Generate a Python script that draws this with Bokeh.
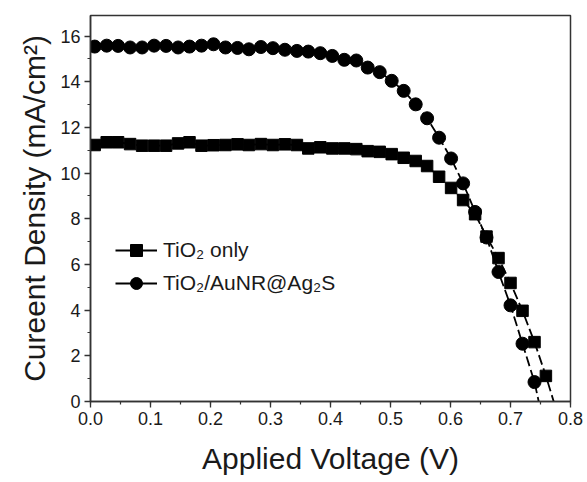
from bokeh.plotting import figure
from bokeh.models import (Range1d, Legend, LegendItem, SingleIntervalTicker,
                          NumeralTickFormatter, ColumnDataSource)
from bokeh.embed import file_html
from bokeh.resources import INLINE

# Applied voltage (V) of each measured point
voltage = [0.007, 0.027, 0.046, 0.066, 0.086, 0.106, 0.126, 0.146, 0.165, 0.185,
           0.205, 0.225, 0.245, 0.264, 0.284, 0.304, 0.324, 0.344, 0.363, 0.383,
           0.403, 0.423, 0.443, 0.462, 0.482, 0.502, 0.522, 0.542, 0.561, 0.581,
           0.601, 0.621, 0.641, 0.660, 0.680, 0.700, 0.720, 0.740, 0.759]

# Current density (mA/cm^2), TiO2 only (squares)
j_tio2 = [11.23, 11.35, 11.35, 11.27, 11.20, 11.20, 11.20, 11.30, 11.35, 11.20,
          11.22, 11.23, 11.26, 11.23, 11.27, 11.23, 11.26, 11.23, 11.08, 11.13,
          11.08, 11.08, 11.05, 10.96, 10.93, 10.83, 10.67, 10.53, 10.31, 9.84,
          9.35, 8.82, 8.20, 7.22, 6.28, 5.19, 3.97, 2.60, 1.12]

# Current density (mA/cm^2), TiO2/AuNR@Ag2S (circles)
j_aunr = [15.54, 15.58, 15.57, 15.50, 15.50, 15.58, 15.57, 15.50, 15.54, 15.58,
          15.64, 15.50, 15.48, 15.42, 15.52, 15.47, 15.40, 15.35, 15.32, 15.25,
          15.13, 14.96, 14.93, 14.62, 14.42, 14.04, 13.60, 13.01, 12.40, 11.55,
          10.64, 9.55, 8.30, 7.18, 5.67, 4.21, 2.53, 0.85]

# Open-circuit voltages where the dashed curves meet J = 0
voc_tio2 = 0.772
voc_aunr = 0.747

labels = ["TiO\u2082 only", "TiO\u2082/AuNR@Ag\u2082S"]

FONT = "Liberation Sans"
INK = "#1a1a1a"

p = figure(width=587, height=482, output_backend="svg", toolbar_location=None,
           x_range=Range1d(0, 0.8), y_range=Range1d(0, 16.9),
           min_border_left=90, min_border_right=17, min_border_top=15,
           min_border_bottom=81, background_fill_color="white",
           border_fill_color="white")

p.xgrid.visible = False
p.ygrid.visible = False
p.outline_line_color = "#333333"
p.outline_line_width = 1.5

p.xaxis.ticker = SingleIntervalTicker(interval=0.1, num_minor_ticks=2)
p.yaxis.ticker = SingleIntervalTicker(interval=2, num_minor_ticks=2)
p.xaxis.formatter = NumeralTickFormatter(format="0.0")

for ax in (p.xaxis[0], p.yaxis[0]):
    ax.axis_line_color = "#333333"
    ax.axis_line_width = 1.5
    ax.major_tick_line_color = "#333333"
    ax.minor_tick_line_color = "#333333"
    ax.major_tick_line_width = 1.3
    ax.minor_tick_line_width = 1.2
    ax.major_tick_out = 6
    ax.major_tick_in = 0
    ax.minor_tick_out = 3
    ax.minor_tick_in = 0
    ax.major_label_text_font = FONT
    ax.major_label_text_font_size = "18px"
    ax.major_label_text_color = INK
    ax.axis_label_text_font = FONT
    ax.axis_label_text_font_style = "normal"
    ax.axis_label_text_font_size = "30px"
    ax.axis_label_text_color = INK

p.xaxis.axis_label = "Applied Voltage (V)"
p.yaxis.axis_label = "Cureent Density (mA/cm\u00b2)"
p.xaxis.major_label_standoff = 4
p.xaxis.axis_label_standoff = 14
p.yaxis.major_label_standoff = 4
p.yaxis.axis_label_standoff = 6

# dashed connecting curves, ending at J = 0
src_a = ColumnDataSource(dict(x=voltage + [voc_tio2], y=j_tio2 + [0.0]))
src_b = ColumnDataSource(dict(x=voltage[:len(j_aunr)] + [voc_aunr], y=j_aunr + [0.0]))
p.line("x", "y", source=src_a, line_color="black", line_width=1.8, line_dash="10 4")
p.line("x", "y", source=src_b, line_color="black", line_width=1.8, line_dash="10 4")

sq = p.scatter(voltage, j_tio2, marker="square", size=11.5, fill_color="black",
               line_color="black")
ci = p.scatter(voltage[:len(j_aunr)], j_aunr, marker="circle", size=13,
               fill_color="black", line_color="black")

# solid line renderers used only for the legend sample
leg_a = p.line(voltage, j_tio2, line_color="black", line_width=1.8, visible=False)
leg_b = p.line(voltage[:len(j_aunr)], j_aunr, line_color="black", line_width=1.8,
               visible=False)

legend = Legend(items=[LegendItem(label=labels[0], renderers=[leg_a, sq]),
                       LegendItem(label=labels[1], renderers=[leg_b, ci])],
                location=(25, 103), orientation="vertical",
                glyph_width=42, glyph_height=30, label_height=30, spacing=3,
                padding=0, margin=0, label_standoff=6,
                label_text_font=FONT, label_text_font_size="21px",
                label_text_color=INK, border_line_color=None,
                background_fill_alpha=0)
p.add_layout(legend, "center")

open("out.html", "w").write(file_html(p, INLINE))
